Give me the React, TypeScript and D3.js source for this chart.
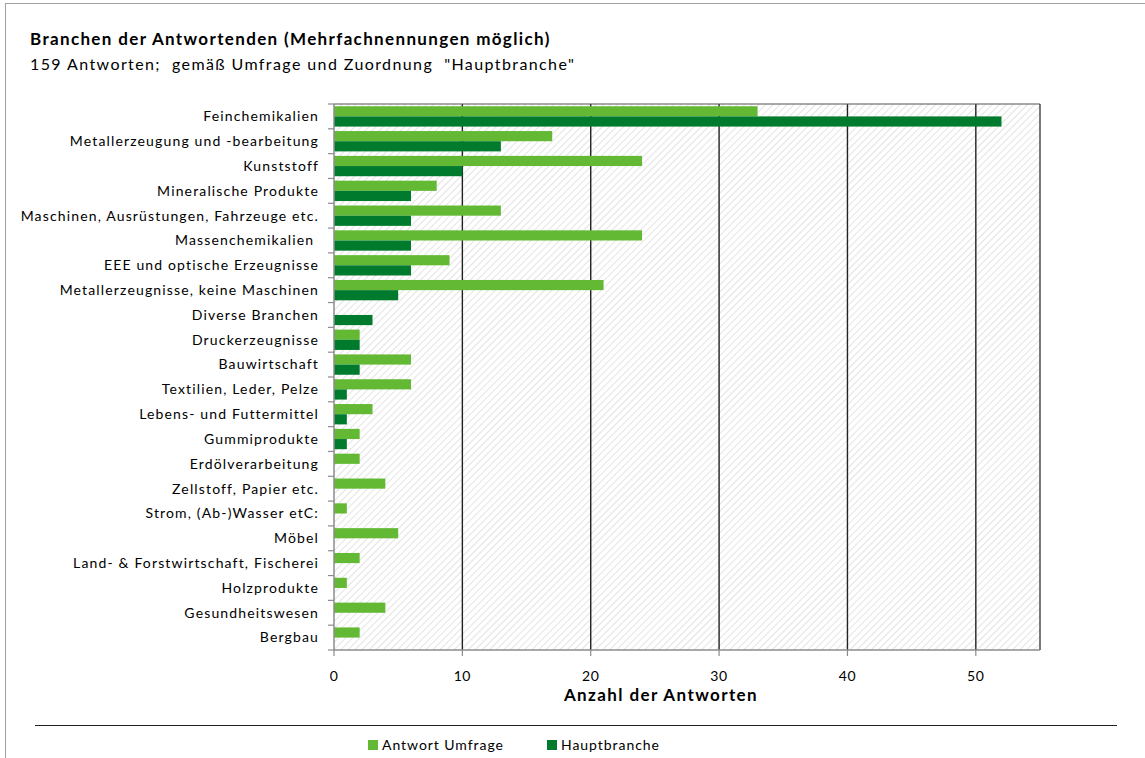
import React from "react";
import * as d3 from "d3";

const categories = [
  "Feinchemikalien",
  "Metallerzeugung und -bearbeitung",
  "Kunststoff",
  "Mineralische Produkte",
  "Maschinen, Ausrüstungen, Fahrzeuge etc.",
  "Massenchemikalien ",
  "EEE und optische Erzeugnisse",
  "Metallerzeugnisse, keine Maschinen",
  "Diverse Branchen",
  "Druckerzeugnisse",
  "Bauwirtschaft",
  "Textilien, Leder, Pelze",
  "Lebens- und Futtermittel",
  "Gummiprodukte",
  "Erdölverarbeitung",
  "Zellstoff, Papier etc.",
  "Strom, (Ab-)Wasser etC:",
  "Möbel",
  "Land- & Forstwirtschaft, Fischerei",
  "Holzprodukte",
  "Gesundheitswesen",
  "Bergbau",
];
const antwortUmfrage = [33, 17, 24, 8, 13, 24, 9, 21, 0, 2, 6, 6, 3, 2, 2, 4, 1, 5, 2, 1, 4, 2];
const hauptbranche = [52, 13, 10, 6, 6, 6, 6, 5, 3, 2, 2, 1, 1, 1, 0, 0, 0, 0, 0, 0, 0, 0];
const xTicks = [0, 10, 20, 30, 40, 50];
const seriesNames = ["Antwort Umfrage", "Hauptbranche"];
const seriesColors = ["#63b934", "#007a2c"];

const W = 1145;
const H = 758;
const plot = { left: 334, right: 1040, top: 104, bottom: 650 };
const FONT = "Lato, 'Open Sans', sans-serif";

export default function App() {
  const x = d3.scaleLinear().domain([0, 55]).range([plot.left, plot.right]);
  const y = d3.scaleBand<string>().domain(categories).range([plot.top, plot.bottom]).paddingInner(0).paddingOuter(0);
  const inner = d3.scaleBand<number>().domain([0, 1]).range([0, y.bandwidth()]).paddingOuter(0.22).paddingInner(0);
  const series = [antwortUmfrage, hauptbranche];
  const boundaries = d3.range(categories.length + 1).map((i) => plot.top + i * y.step());

  return (
    <svg width={W} height={H} style={{ position: "absolute", left: 0, top: 0, background: "#fff" }}>
      <defs>
        <pattern id="hatch" patternUnits="userSpaceOnUse" width="5" height="5" patternTransform="rotate(45)">
          <rect width="5" height="5" fill="#ffffff" />
          <line x1="0" y1="0" x2="0" y2="5" stroke="#dcdcdc" strokeWidth="1.6" />
        </pattern>
      </defs>
      <rect x={5.5} y={3.5} width={W + 10} height={H + 10} fill="none" stroke="#a0a0a0" strokeWidth={1} />

      <text x={30} y={45} fontFamily={FONT} fontSize={17} fontWeight="bold" letterSpacing={1.35} fill="#000">
        Branchen der Antwortenden (Mehrfachnennungen möglich)
      </text>
      <text x={30} y={70} fontFamily={FONT} fontSize={16} letterSpacing={1.4} fill="#000" style={{ whiteSpace: "pre" }}>
        {'159 Antworten;  gemäß Umfrage und Zuordnung  "Hauptbranche"'}
      </text>

      <rect x={plot.left} y={plot.top} width={plot.right - plot.left} height={plot.bottom - plot.top} fill="url(#hatch)" />

      {xTicks.filter((t) => t > 0).map((t) => (
        <line key={"g" + t} x1={x(t)} x2={x(t)} y1={plot.top} y2={plot.bottom} stroke="#222" strokeWidth={1.4} />
      ))}
      <line x1={plot.left} x2={plot.right} y1={plot.top} y2={plot.top} stroke="#555" strokeWidth={1} />
      <line x1={plot.right} x2={plot.right} y1={plot.top} y2={plot.bottom} stroke="#333" strokeWidth={1.3} />

      {series.map((vals, si) =>
        vals.map((v, i) =>
          v > 0 ? (
            <rect
              key={si + "-" + i}
              x={x(0)}
              y={(y(categories[i]) as number) + (inner(si) as number)}
              width={x(v) - x(0)}
              height={inner.bandwidth()}
              fill={seriesColors[si]}
            />
          ) : null
        )
      )}

      <line x1={plot.left} x2={plot.left} y1={plot.top} y2={plot.bottom} stroke="#8c8c8c" strokeWidth={1.5} />
      {boundaries.map((b, i) => (
        <line key={"yt" + i} x1={plot.left - 6} x2={plot.left} y1={b} y2={b} stroke="#8c8c8c" strokeWidth={1.2} />
      ))}
      <line x1={plot.left} x2={plot.right} y1={plot.bottom} y2={plot.bottom} stroke="#8c8c8c" strokeWidth={1.5} />
      {xTicks.map((t) => (
        <line key={"xt" + t} x1={x(t)} x2={x(t)} y1={plot.bottom} y2={plot.bottom + 6} stroke="#8c8c8c" strokeWidth={1.2} />
      ))}

      {categories.map((c) => (
        <text
          key={c}
          x={319}
          y={(y(c) as number) + y.bandwidth() / 2}
          dy="0.35em"
          textAnchor="end"
          fontFamily={FONT}
          fontSize={14}
          letterSpacing={1.15}
          fill="#000"
          style={{ whiteSpace: "pre" }}
        >
          {c}
        </text>
      ))}
      {xTicks.map((t) => (
        <text key={"xl" + t} x={x(t)} y={681} textAnchor="middle" fontFamily={FONT} fontSize={14} letterSpacing={0.6} fill="#000">
          {t}
        </text>
      ))}
      <text x={661} y={701} textAnchor="middle" fontFamily={FONT} fontSize={17} fontWeight="bold" letterSpacing={1.4} fill="#000">
        Anzahl der Antworten
      </text>

      <line x1={35} x2={1117} y1={725.5} y2={725.5} stroke="#222" strokeWidth={1} />

      {seriesNames.map((n, i) => {
        const lx = i === 0 ? 368 : 547;
        return (
          <g key={n}>
            <rect x={lx} y={740} width={10} height={10} fill={seriesColors[i]} />
            <text x={lx + 14} y={750} fontFamily={FONT} fontSize={14} letterSpacing={0.95} fill="#000">
              {n}
            </text>
          </g>
        );
      })}
    </svg>
  );
}
